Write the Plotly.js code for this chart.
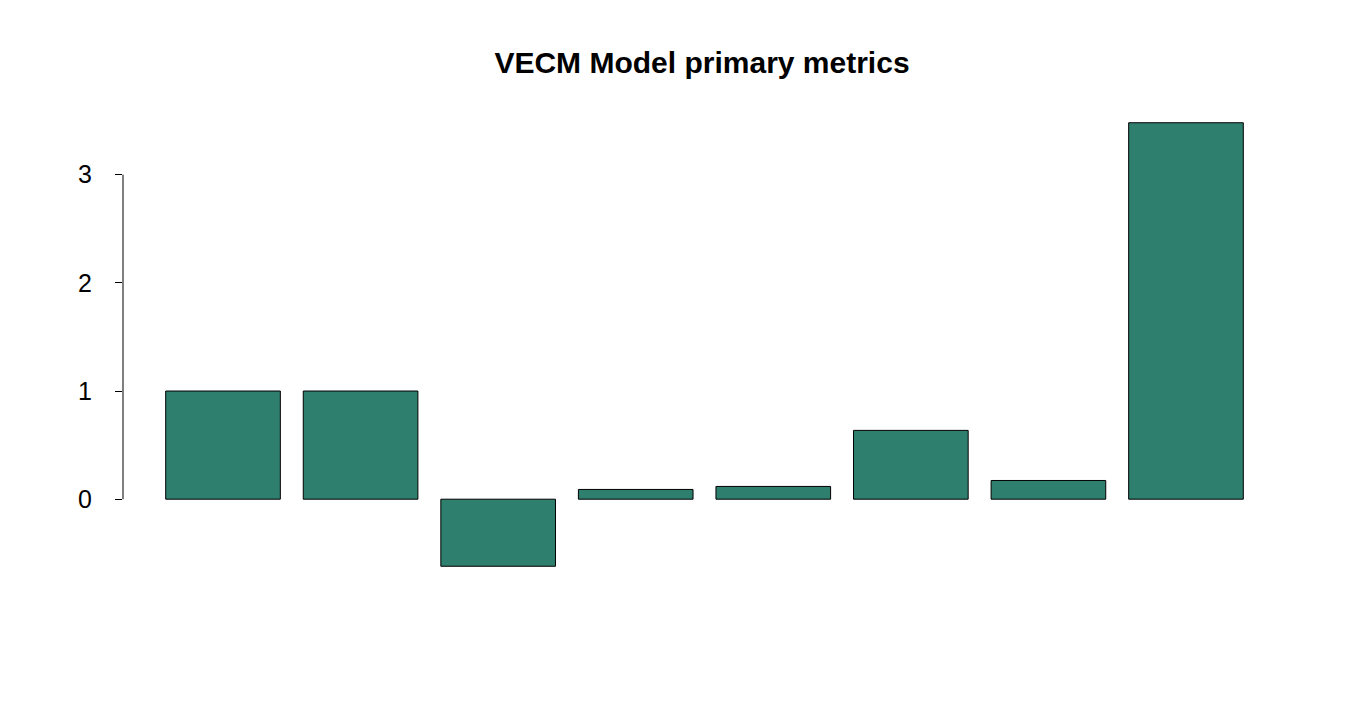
<!DOCTYPE html>
<html>
<head>
<meta charset="utf-8">
<script src="https://cdn.plot.ly/plotly-3.0.1.min.js"></script>
<style>
  html, body { margin: 0; padding: 0; background: #fff; }
  #chart { width: 1350px; height: 720px; }
</style>
</head>
<body>
<div id="chart"></div>
<script>
// metric values
var metrics = ['m1', 'm2', 'm3', 'm4', 'm5', 'm6', 'm7', 'm8']
var values = [1.0, 1.0, -0.62, 0.09, 0.118, 0.636, 0.173, 3.48]
var ytick_vals = [0, 1, 2, 3]

var bar_color = '#2E7F6E'

var bars = {
	x: metrics.map((m, i) => i),
	y: values,
	type: 'bar',
	marker: {color: bar_color, line: {color: '#000', width: 1}},
	hoverinfo: 'y',
	showlegend: false,
}

var layout = {
	width: 1350,
	height: 720,
	paper_bgcolor: '#fff',
	plot_bgcolor: '#fff',
	margin: {l: 123, r: 64, t: 105, b: 136, pad: 0},
	bargap: 1/6,
	font: {family: 'Liberation Sans, Arial, sans-serif', size: 25, color: '#000'},
	title: {
		text: '<b>VECM Model primary metrics</b>',
		font: {size: 30, color: '#000'},
		x: 702/1350, xref: 'container', xanchor: 'center',
		y: 1 - 62/720, yanchor: 'middle',
	},
	xaxis: {
		range: [-0.727, 7.727],
		showticklabels: false,
		showgrid: false,
		zeroline: false,
		showline: false,
		ticks: '',
		fixedrange: true,
	},
	yaxis: {
		range: [-0.784, 3.644],
		tickvals: ytick_vals,
		ticktext: ytick_vals.map(String),
		ticks: 'outside',
		ticklen: 7,
		tickwidth: 1,
		tickcolor: '#000',
		ticklabelstandoff: 18,
		showgrid: false,
		zeroline: false,
		showline: false,
		tickfont: {size: 25},
		fixedrange: true,
	},
	shapes: [
		// R style axis line, only from first to last tick
		{type: 'line', xref: 'paper', yref: 'y', x0: 0, x1: 0, y0: 0, y1: 3,
		 line: {color: '#000', width: 1}},
	],
}

Plotly.newPlot('chart', [bars], layout, {displayModeBar: false, staticPlot: true})
</script>
</body>
</html>
